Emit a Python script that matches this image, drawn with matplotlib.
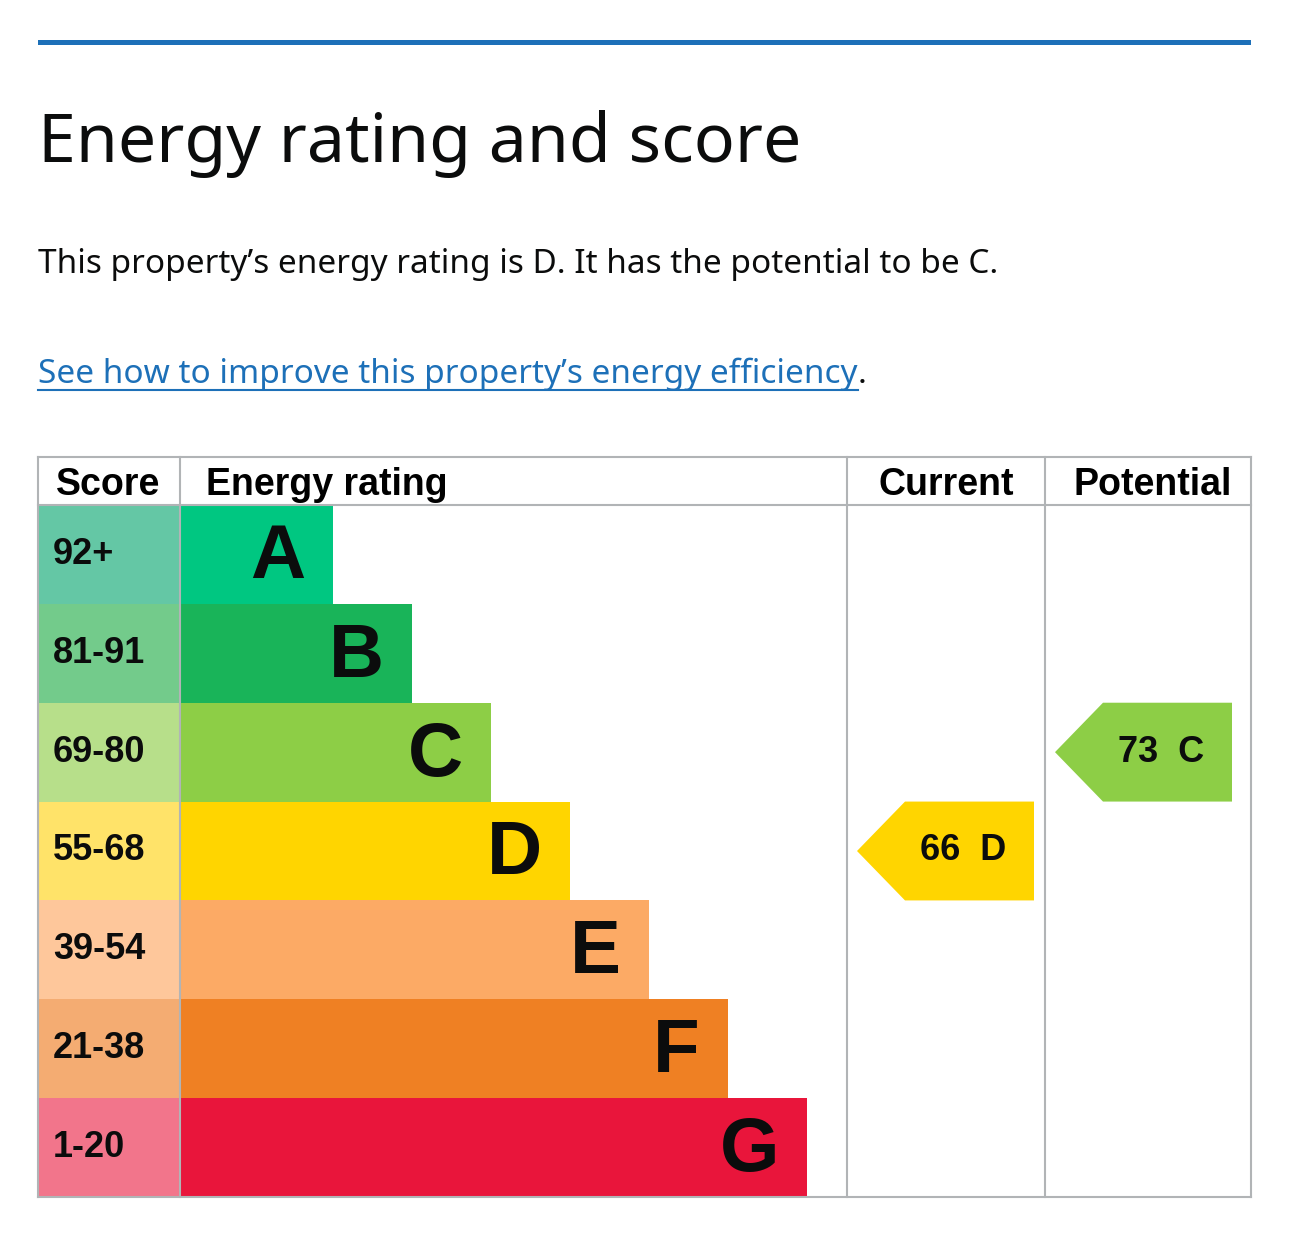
import matplotlib
matplotlib.use("Agg")
import matplotlib.pyplot as plt
from matplotlib.patches import Rectangle, Polygon

# Data
letters = ["A", "B", "C", "D", "E", "F", "G"]
bands = ["92+", "81-91", "69-80", "55-68", "39-54", "21-38", "1-20"]
band_low = [92, 81, 69, 55, 39, 21, 1]
bar_colors = ["#00c781", "#19b459", "#8dce46", "#ffd500", "#fcaa65", "#ef8023", "#e9153b"]
score_colors = ["#64c7a5", "#73cb8b", "#b7df8a", "#ffe369", "#fec79b", "#f4ac72", "#f2758b"]
current_score = 66
potential_score = 73

W, H = 1294, 1240
fig = plt.figure(figsize=(W / 100, H / 100), dpi=100)
ax = fig.add_axes([0, 0, 1, 1])
ax.set_xlim(0, W)
ax.set_ylim(H, 0)
ax.axis("off")

ui = "Noto Sans"
tab = "Liberation Sans"

ax.add_patch(Rectangle((38, 40), 1213, 5, color="#1d70b8", lw=0))
ax.text(38, 162, "Energy rating and score", fontsize=49, fontweight="bold",
        family=ui, va="baseline", color="#0b0c0c")
ax.text(38, 273, "This property\u2019s energy rating is D. It has the potential to be C.",
        fontsize=24, family=ui, va="baseline", color="#0b0c0c")
link = ax.text(38, 383, "See how to improve this property\u2019s energy efficiency",
               fontsize=24, family=ui, va="baseline", color="#1d70b8")
fig.canvas.draw()
bb = link.get_window_extent()
x1 = bb.x1
ax.plot([38, x1], [390, 390], color="#1d70b8", lw=1.5)
ax.text(x1, 383, ".", fontsize=24, family=ui, va="baseline", color="#0b0c0c")

# table geometry
left, right, top, bottom = 38, 1251, 457, 1197
head = 505
cols = [38, 180, 847, 1045, 1251]
row_h = (bottom - head) / len(letters)
bar_step = 79
grey = "#b1b4b6"

for x in cols:
    ax.plot([x, x], [top, bottom], color=grey, lw=1.5)
ax.plot([left, right], [top, top], color=grey, lw=1.5)
ax.plot([left, right], [head, head], color=grey, lw=1.5)
ax.plot([left, right], [bottom, bottom], color=grey, lw=1.5)

hy = 495
ax.text(108, hy, "Score", fontsize=27, fontweight="bold", family=tab, ha="center", va="baseline")
ax.text(206, hy, "Energy rating", fontsize=27, fontweight="bold", family=tab, va="baseline")
ax.text(946, hy, "Current", fontsize=27, fontweight="bold", family=tab, ha="center", va="baseline")
ax.text(1153, hy, "Potential", fontsize=27, fontweight="bold", family=tab, ha="center", va="baseline")

for i, (let, band) in enumerate(zip(letters, bands)):
    y0 = head + i * row_h
    ax.add_patch(Rectangle((cols[0], y0), cols[1] - cols[0], row_h, color=score_colors[i], lw=0))
    bw = 153 + i * bar_step
    ax.add_patch(Rectangle((cols[1], y0), bw, row_h, color=bar_colors[i], lw=0))
    ax.text(53, y0 + row_h / 2, band, fontsize=26, fontweight="bold", family=tab,
            va="center", color="#0b0c0c")
    ax.text(cols[1] + bw - 28, y0 + row_h / 2 + 4, let, fontsize=55, fontweight="bold",
            family=tab, ha="right", va="center", color="#0b0c0c")


def row_of(score):
    for i, lo in enumerate(band_low):
        if score >= lo:
            return i
    return len(band_low) - 1


def arrow(score, cx0, cx1):
    i = row_of(score)
    y0 = head + i * row_h
    y1 = y0 + row_h
    tip = 48
    ax.add_patch(Polygon([(cx0, (y0 + y1) / 2), (cx0 + tip, y0), (cx1, y0), (cx1, y1), (cx0 + tip, y1)],
                         closed=True, color=bar_colors[i], lw=0))
    ax.text((cx0 + tip + cx1) / 2 - 6, (y0 + y1) / 2, f"{score}  {letters[i]}", fontsize=26,
            fontweight="bold", family=tab, ha="center", va="center", color="#0b0c0c")


arrow(current_score, 857, 1034)
arrow(potential_score, 1055, 1232)

fig.savefig("out.png", dpi=100, facecolor="white")
